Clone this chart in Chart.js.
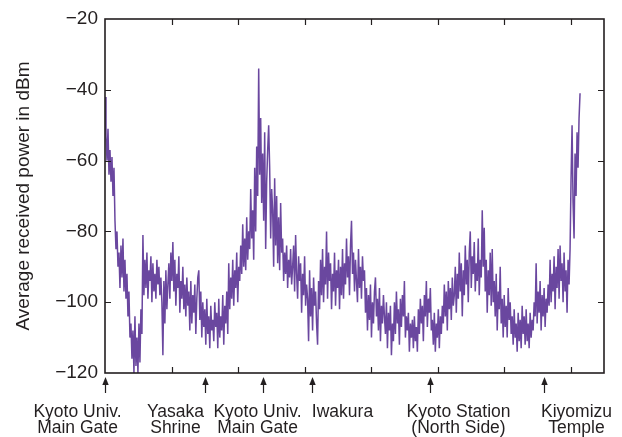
<!DOCTYPE html>
<html lang="en">
<head>
    <meta charset="UTF-8">
    <title>Average received power along the route</title>
    <script src="https://cdn.jsdelivr.net/npm/chart.js"></script>
    <style>
        body { margin: 0; background: #fff; }
        canvas { display: block; }
    </style>
</head>
<body>
    <canvas id="powerChart" width="622" height="437"></canvas>

    <script>
        // distance between two samples along the route (arbitrary units, 0..750)
        const sampleStep = 1.5;

        // average received power in dBm
        const powerDbm = [
            -42, -53, -60, -51, -64, -57, -66, -59, -70, -62, -77, -85, -80, -90, -86, -96, -84, -93, -82, -97,
            -88, -99, -92, -104, -97, -110, -106, -116, -108, -120, -104, -118, -110, -120, -106, -117, -102, -109, -81, -98,
            -88, -96, -86, -99, -91, -94, -87, -100, -89, -97, -92, -99, -88, -95, -90, -98, -93, -100, -115, -94,
            -106, -91, -102, -95, -89, -99, -86, -94, -83, -97, -88, -101, -92, -96, -87, -103, -94, -99, -90, -102,
            -95, -104, -93, -101, -97, -108, -94, -106, -98, -103, -95, -109, -99, -93, -91, -105, -97, -110, -100, -107,
            -102, -112, -99, -109, -104, -113, -101, -108, -105, -111, -100, -107, -103, -113, -99, -110, -104, -108, -98, -112,
            -101, -106, -97, -109, -89, -102, -93, -99, -88, -101, -91, -96, -86, -100, -90, -94, -84, -92, -78, -90,
            -82, -91, -76, -88, -80, -85, -68, -82, -74, -88, -62, -80, -56, -70, -34, -64, -48, -72, -58, -77,
            -52, -85, -66, -57, -50, -62, -82, -68, -74, -90, -65, -84, -70, -89, -76, -91, -72, -86, -82, -94,
            -86, -92, -84, -96, -88, -93, -85, -95, -90, -84, -97, -81, -92, -99, -87, -94, -89, -103, -92, -98,
            -87, -101, -95, -99, -111, -91, -104, -96, -108, -93, -101, -97, -106, -112, -94, -102, -88, -98, -85, -100,
            -90, -95, -80, -99, -86, -94, -89, -102, -92, -97, -86, -101, -91, -96, -88, -102, -90, -98, -85, -99,
            -89, -95, -82, -93, -87, -98, -84, -77, -92, -86, -97, -88, -94, -100, -85, -96, -90, -99, -87, -94,
            -91, -103, -96, -108, -98, -105, -95, -110, -100, -106, -97, -93, -104, -99, -108, -96, -111, -101, -106, -98,
            -104, -109, -100, -113, -103, -108, -101, -115, -106, -111, -100, -109, -97, -106, -102, -112, -99, -107, -98, -104,
            -94, -110, -104, -108, -103, -114, -106, -110, -105, -113, -104, -111, -107, -114, -102, -109, -99, -106, -101, -111,
            -98, -104, -94, -107, -99, -103, -96, -108, -105, -112, -103, -114, -106, -110, -102, -113, -104, -109, -101, -106,
            -95, -104, -97, -108, -94, -102, -96, -105, -93, -101, -98, -90, -103, -92, -99, -86, -97, -89, -104, -91,
            -98, -84, -95, -88, -100, -86, -80, -96, -87, -92, -83, -97, -89, -94, -82, -98, -88, -93, -74, -90,
            -79, -97, -88, -103, -91, -98, -86, -101, -85, -100, -94, -104, -92, -108, -97, -102, -90, -106, -99, -110,
            -98, -107, -101, -110, -96, -105, -100, -109, -104, -112, -102, -110, -106, -114, -103, -111, -105, -113, -101, -109,
            -104, -112, -102, -111, -106, -113, -103, -110, -105, -108, -100, -104, -89, -106, -97, -103, -94, -108, -98, -104,
            -96, -107, -99, -103, -95, -101, -88, -100, -92, -97, -87, -102, -90, -96, -85, -99, -84, -94, -89, -100,
            -86, -97, -91, -103, -88, -95, -85, -65, -50, -72, -82, -58, -70, -52, -62, -48, -41
        ];

        const xMin = 0, xMax = 750, xTickStep = 100;
        const yMin = -120, yMax = -20, yTickStep = 20;

        // landmarks passed on the route (same distance units as the samples)
        const landmarkPos = [0, 150, 238, 311, 488, 660];
        const landmarkNames = [
            ['Kyoto Univ.', 'Main Gate'],
            ['Yasaka', 'Shrine'],
            ['Kyoto Univ.', 'Main Gate'],
            ['Iwakura'],
            ['Kyoto Station', '(North Side)'],
            ['Kiyomizu', 'Temple']
        ];
        // horizontal shift of each label block from its arrow, in px
        const labelShift = [-28, -30, -6, 30, 28, 32];

        const ink = '#231f20';
        const fontFamily = '"Liberation Sans", Arial, sans-serif';

        const points = powerDbm.map((v, i) => ({ x: i * sampleStep, y: v }));

        // box, inward ticks, landmark arrows and names
        const framePlugin = {
            id: 'frameAndMarks',
            afterDraw(chart) {
                const ctx = chart.ctx;
                const { left, right, top, bottom } = chart.chartArea;
                const xs = chart.scales.x;
                const ys = chart.scales.y;
                const tick = 6;

                ctx.save();
                ctx.strokeStyle = ink;
                ctx.lineWidth = 1.2;
                xs.ticks.forEach(t => {
                    if (t.value <= xMin || t.value >= xMax) return;
                    const px = Math.round(xs.getPixelForValue(t.value)) + 0.5;
                    ctx.beginPath();
                    ctx.moveTo(px, bottom); ctx.lineTo(px, bottom - tick);
                    ctx.moveTo(px, top); ctx.lineTo(px, top + tick);
                    ctx.stroke();
                });
                ys.ticks.forEach(t => {
                    if (t.value <= yMin || t.value >= yMax) return;
                    const py = Math.round(ys.getPixelForValue(t.value)) + 0.5;
                    ctx.beginPath();
                    ctx.moveTo(left, py); ctx.lineTo(left + tick, py);
                    ctx.moveTo(right, py); ctx.lineTo(right - tick, py);
                    ctx.stroke();
                });

                ctx.lineWidth = 1.6;
                ctx.strokeRect(left, top, right - left, bottom - top);

                // arrows pointing up at the axis
                ctx.fillStyle = ink;
                ctx.lineWidth = 1.2;
                landmarkPos.forEach((pos, i) => {
                    const px = Math.round(xs.getPixelForValue(pos)) + 0.5;
                    ctx.beginPath();
                    ctx.moveTo(px, bottom + 20);
                    ctx.lineTo(px, bottom + 10);
                    ctx.stroke();
                    ctx.beginPath();
                    ctx.moveTo(px, bottom + 4);
                    ctx.lineTo(px - 3.2, bottom + 12);
                    ctx.lineTo(px + 3.2, bottom + 12);
                    ctx.closePath();
                    ctx.fill();

                    ctx.font = '17.5px ' + fontFamily;
                    ctx.textAlign = 'center';
                    ctx.textBaseline = 'alphabetic';
                    landmarkNames[i].forEach((line, j) => {
                        ctx.fillText(line, px + labelShift[i], bottom + 44 + j * 16);
                    });
                });
                ctx.restore();
            }
        };

        new Chart(document.getElementById('powerChart'), {
            type: 'line',
            data: {
                datasets: [
                    {
                        label: 'Average received power',
                        data: points,
                        borderColor: '#6a479f',
                        borderWidth: 1.5,
                        pointRadius: 0,
                        tension: 0,
                    },
                ],
            },
            options: {
                responsive: false,
                animation: false,
                layout: { padding: { top: 19, right: 18, bottom: 0, left: 0 } },
                plugins: {
                    legend: { display: false },
                    tooltip: { enabled: false },
                },
                scales: {
                    x: {
                        type: 'linear',
                        min: xMin,
                        max: xMax,
                        ticks: { stepSize: xTickStep, display: false },
                        grid: { display: false, drawTicks: false },
                        border: { display: false },
                        afterFit(scale) { scale.height = 64; },
                    },
                    y: {
                        min: yMin,
                        max: yMax,
                        ticks: {
                            stepSize: yTickStep,
                            padding: 7,
                            color: ink,
                            font: { family: fontFamily, size: 19 },
                            callback: v => String(v).replace('-', '\u2212'),
                        },
                        grid: { display: false, drawTicks: false },
                        border: { display: false },
                        title: {
                            display: true,
                            text: 'Average received power in dBm',
                            color: ink,
                            font: { family: fontFamily, size: 19 },
                            padding: { top: 12, bottom: 0 },
                        },
                        afterFit(scale) { scale.width = 105; },
                    },
                },
            },
            plugins: [framePlugin],
        });
    </script>
</body>
</html>
